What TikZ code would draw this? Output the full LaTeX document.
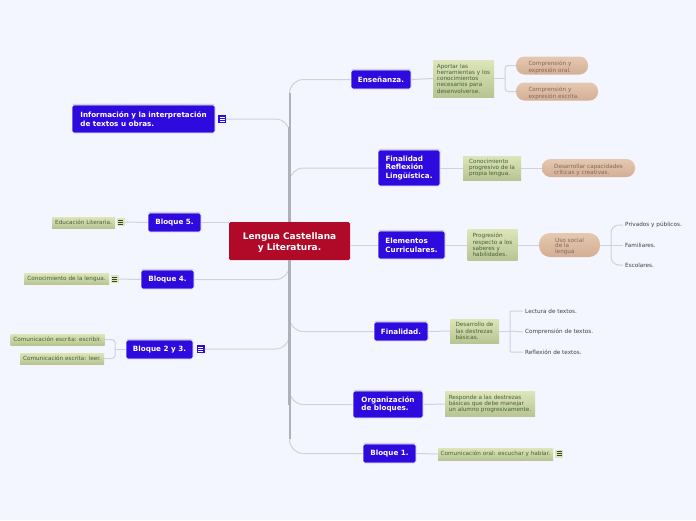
\documentclass[tikz,border=0pt]{standalone}
\usepackage{fontspec}
\setmainfont{DejaVu Sans}
\usetikzlibrary{shadows}
\definecolor{bgcol}{HTML}{F4F6FF}
\definecolor{redcol}{HTML}{B00A28}
\definecolor{bluecol}{HTML}{2E0ADF}
\definecolor{linecol}{HTML}{D0D2DB}
\definecolor{trunkcol}{HTML}{B0B1B8}
\definecolor{greentop}{HTML}{DDE5B9}
\definecolor{greenbot}{HTML}{B7C592}
\definecolor{greentxt}{HTML}{456238}
\definecolor{tantop}{HTML}{E6C8B0}
\definecolor{tanbot}{HTML}{D3AE95}
\definecolor{tantxt}{HTML}{7E6A5C}
\newcommand{\toppad}[1]{\rule{0pt}{#1pt}}
\begin{document}
\begin{tikzpicture}[x=1pt,y=-1pt]
    \tikzstyle{rootnode}=[rectangle,rounded corners=1.5,fill=redcol,text=white,align=center,
      font=\fontsize{9}{11.5}\selectfont\bfseries,inner sep=0,minimum width=121,minimum height=38]
    \tikzstyle{bluenode}=[rectangle,rounded corners=1.5,fill=bluecol,draw=white,line width=.8,text=white,align=left,
      font=\fontsize{7.2}{8.7}\selectfont\bfseries,inner sep=0,
      drop shadow={shadow xshift=0,shadow yshift=-1.2,fill=black!55,opacity=.45}]
    \tikzstyle{greennode}=[rectangle,top color=greentop,bottom color=greenbot,text=greentxt,align=left,
      font=\fontsize{5.7}{6.2}\selectfont,inner sep=0]
    \tikzstyle{tannode}=[rectangle,rounded corners=8.5,top color=tantop,bottom color=tanbot,text=tantxt,align=left,
      font=\fontsize{5.7}{5.6}\selectfont,inner xsep=12.5,inner ysep=0]
    \tikzstyle{leaf}=[anchor=west,inner sep=2,text=black!75,font=\fontsize{5.7}{6.6}\selectfont]
    \tikzstyle{branch}=[linecol,line width=1,rounded corners=14]
    \tikzstyle{twig}=[linecol,line width=1,rounded corners=3]
    \tikzstyle{trunk}=[trunkcol,line width=3]
    \tikzstyle{noteblue}=[rectangle,fill=bluecol,inner sep=0,minimum size=8,
      path picture={\foreach \i in {-2,0,2}
        \draw[white,line width=.7] ([xshift=-2.5,yshift=\i]path picture bounding box.center) -- ++(5,0);}]
    \tikzstyle{notegreen}=[rectangle,fill=greentop,inner sep=0,minimum size=8,
      path picture={\foreach \i in {-2,0,2}
        \draw[greentxt!70!black,line width=.7] ([xshift=-2.5,yshift=\i]path picture bounding box.center) -- ++(5,0);}]

    \useasboundingbox[fill=bgcol] (0,0) rectangle (696,520);

    \node[rootnode] (root) at (289.5,241) {\toppad{10}Lengua Castellana\\y Literatura.};

    % right side
    \node[bluenode,minimum width=60,minimum height=19] (ensen) at (381,79.5) {Enseñanza.};
    \node[bluenode,minimum width=62,minimum height=36] (finrefl) at (409,168) {Finalidad\\Reflexión\\Lingüística.};
    \node[bluenode,minimum width=67,minimum height=28] (elem) at (411.5,245) {Elementos\\Curriculares.};
    \node[bluenode,minimum width=54,minimum height=19] (final) at (401,331.5) {Finalidad.};
    \node[bluenode,minimum width=70,minimum height=27] (organ) at (388,404.5) {Organización\\de bloques.};
    \node[bluenode,minimum width=53,minimum height=19] (bloqueA) at (389.5,453.5) {Bloque 1.};

    % left side
    \node[bluenode,minimum width=143,minimum height=28] (info) at (143.5,119) {Información y la interpretación\\de textos u obras.};
    \node[bluenode,minimum width=53,minimum height=19] (bloqueE) at (174.5,222.5) {Bloque 5.};
    \node[bluenode,minimum width=53,minimum height=19] (bloqueD) at (167.5,279.5) {Bloque 4.};
    \node[bluenode,minimum width=67,minimum height=19] (bloqueB) at (159.5,349.5) {Bloque 2 y 3.};

    \node[noteblue] (noteinfo) at (222,119) {};
    \node[notegreen] (noteE) at (120.5,222) {};
    \node[notegreen] (noteD) at (114.5,279) {};
    \node[noteblue] (noteB) at (200.5,349) {};
    \node[notegreen] (noteA) at (559,453.5) {};

    \node[greennode,minimum width=61,minimum height=37] (aportar) at (463.5,78.5) {Aportar las\\herramientas y los\\conocimientos\\necesarios para\\desenvolverse.};
    \node[greennode,minimum width=58,minimum height=24] (conoc) at (492,168) {Conocimiento\\progresivo de la\\propia lengua.};
    \node[greennode,minimum width=50,minimum height=31] (progr) at (492.5,245) {Progresión\\respecto a los\\saberes y\\habilidades.};
    \node[greennode,minimum width=49,minimum height=24] (desarr) at (474.5,331) {Desarrollo de\\las destrezas\\básicas.};
    \node[greennode,minimum width=90,minimum height=25] (respon) at (490,404) {Responde a las destrezas\\básicas que debe manejar\\un alumno progresivamente.};
    \node[greennode,minimum width=115,minimum height=12] (oral) at (495.5,454) {Comunicación oral: escuchar y hablar.};
    \node[greennode,minimum width=63,minimum height=11] (educ) at (83.5,222.5) {Educación Literaria.};
    \node[greennode,minimum width=85,minimum height=11] (lengua) at (66.5,279) {Conocimiento de la lengua.};
    \node[greennode,minimum width=94,minimum height=11] (escrib) at (57.5,339.5) {Comunicación escrita: escribir.};
    \node[greennode,minimum width=84,minimum height=11] (leer) at (62,358.5) {Comunicación escrita: leer.};

    \node[tannode,text width=47,minimum height=18] (compO) at (552,65.5) {\toppad{8}Comprensión y\\expresión oral.};
    \node[tannode,text width=57,minimum height=18] (compE) at (557,91.5) {\toppad{8}Comprensión y\\expresión escrita.};
    \node[tannode,inner xsep=0,minimum width=93,minimum height=18] (capac) at (588.5,168) {\toppad{8}Desarrollar capacidades\\críticas y creativas.};
    \node[tannode,rounded corners=11,inner xsep=0,minimum width=61,minimum height=24] (social) at (569.5,245) {\toppad{7}Uso social\\de la\\lengua};

    \node[leaf] (priv) at (623,225) {Privados y públicos.};
    \node[leaf] (famil) at (623,245) {Familiares.};
    \node[leaf] (escol) at (623,265) {Escolares.};
    \node[leaf] (lect) at (523,311) {Lectura de textos.};
    \node[leaf] (compr) at (523,332) {Comprensión de textos.};
    \node[leaf] (refl) at (523,352) {Reflexión de textos.};

    \coordinate (forkA) at (505,78.5);
    \coordinate (forkB) at (611,245);
    \coordinate (forkC) at (510,331);
    \coordinate (forkD) at (115,349.5);

    \draw[branch] (root.north) |- (ensen.west);
    \draw[branch] (root.north) |- (finrefl.west);
    \draw[branch] (root.north) |- (noteinfo.east);
    \draw[branch] (root.south) |- (final.west);
    \draw[branch] (root.south) |- (organ.west);
    \draw[branch] (root.south) |- (bloqueA.west);
    \draw[branch] (root.south) |- (noteB.east);
    \draw[branch] (root.south) |- (bloqueD.east);
    \draw[trunk] (root.north) -- ++(0,-95);
    \draw[trunk] (root.south) -- ++(0,145);
    \draw[trunk,line width=2] (root.north) -- ++(0,-129);
    \draw[trunk,line width=2] (root.south) -- ++(0,179);

    \path[linecol,line width=1]
    (elem.west) edge (elem.west -| root.east)
    (bloqueE.east) edge (bloqueE.east -| root.west)
    (bloqueE.west) edge (noteE.east)
    (bloqueD.west) edge (noteD.east)
    (ensen.east) edge (aportar.west)
    (finrefl.east) edge (conoc.west)
    (conoc.east) edge (capac.west)
    (elem.east) edge (progr.west)
    (progr.east) edge (social.west)
    (final.east) edge (desarr.west)
    (organ.east) edge (respon.west)
    (bloqueA.east) edge (oral.west)
    (aportar.east) edge (forkA)
    (social.east) edge (forkB)
    (desarr.east) edge (forkC)
    (bloqueB.west) edge (forkD)
    (forkB) edge (famil.west)
    (forkC) edge (compr.west);

    \draw[twig] (forkA) |- (compO.west);
    \draw[twig] (forkA) |- (compE.west);
    \draw[twig,rounded corners=8] (forkB) |- (priv.west);
    \draw[twig,rounded corners=8] (forkB) |- (escol.west);
    \draw[twig,rounded corners=1] (forkC) |- (lect.west);
    \draw[twig,rounded corners=1] (forkC) |- (refl.west);
    \draw[twig] (forkD) |- (escrib.east);
    \draw[twig] (forkD) |- (leer.east);
\end{tikzpicture}
\end{document}
